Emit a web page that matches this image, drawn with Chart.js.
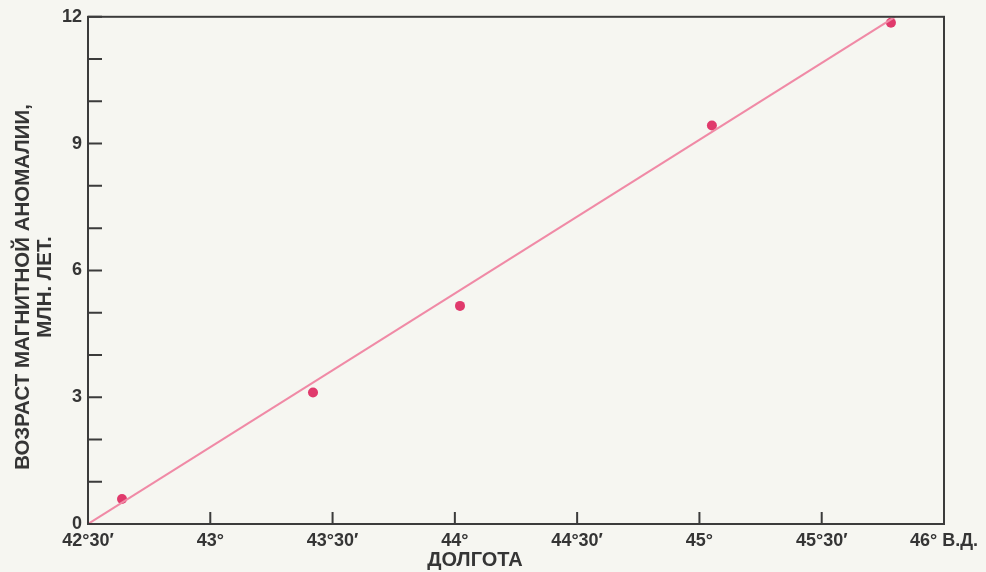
<!DOCTYPE html>
<html lang="ru">
<head>
    <meta charset="UTF-8" />
    <title>Возраст магнитной аномалии</title>
    <script src="https://cdn.jsdelivr.net/npm/chart.js"></script>
    <style>
        html, body {
            margin: 0;
            padding: 0;
            background: #f6f6f1;
        }
        #wrap {
            position: relative;
            width: 986px;
            height: 572px;
        }
    </style>
</head>
<body>
<div id="wrap"><canvas id="ageChart"></canvas></div>

<script>
    // измеренные точки: долгота (градусы) и возраст (млн. лет)
    const longitudes = [42.639, 43.42, 44.021, 45.051, 45.783];
    const ages = [0.59, 3.11, 5.16, 9.43, 11.86];

    // прямая
    const fitLongitudes = [42.5, 45.80];
    const fitAges = [0, 12];

    const xTickValues = [42.5, 43, 43.5, 44, 44.5, 45, 45.5, 46];
    const yLabelValues = [0, 3, 6, 9, 12];

    const yTitle = ['ВОЗРАСТ МАГНИТНОЙ АНОМАЛИИ,', 'МЛН. ЛЕТ.'];
    const xTitle = 'ДОЛГОТА';
    const lastTickSuffix = ' В.Д.';

    const axisColor = '#3b3b3b';
    const textColor = '#353535';

    function fmtLon(v) {
        const deg = Math.floor(v + 1e-9);
        const min = Math.round((v - deg) * 60);
        let s = deg + '°' + (min ? min + '′' : '');
        if (v === xTickValues[xTickValues.length - 1]) s += lastTickSuffix;
        return s;
    }

    // рамка, внутренние риски и подписи осей
    const axisDecor = {
        id: 'axisDecor',
        afterDraw(chart) {
            const {ctx, chartArea: a, scales} = chart;
            ctx.save();
            ctx.strokeStyle = axisColor;
            ctx.lineWidth = 2;
            ctx.strokeRect(a.left, a.top, a.right - a.left, a.bottom - a.top);

            ctx.beginPath();
            scales.y.ticks.forEach(t => {
                const py = scales.y.getPixelForValue(t.value);
                ctx.moveTo(a.left, py);
                ctx.lineTo(a.left + 14, py);
            });
            scales.x.ticks.forEach(t => {
                const px = scales.x.getPixelForValue(t.value);
                ctx.moveTo(px, a.bottom);
                ctx.lineTo(px, a.bottom - 12);
            });
            ctx.stroke();

            ctx.fillStyle = textColor;
            ctx.textAlign = 'center';
            ctx.textBaseline = 'middle';
            ctx.font = 'bold 20px "Liberation Sans", Arial, sans-serif';
            ctx.fillText(xTitle, 475, 560);

            ctx.font = 'bold 20.5px "Liberation Sans", Arial, sans-serif';
            ctx.translate(0, 287);
            ctx.rotate(-Math.PI / 2);
            ctx.fillText(yTitle[0], 0, 23);
            ctx.fillText(yTitle[1], 0, 45);
            ctx.restore();
        }
    };

    const tickFont = { family: '"Liberation Sans", Arial, sans-serif', size: 18, weight: 'bold' };

    new Chart(document.getElementById('ageChart'), {
        type: 'scatter',
        data: {
            datasets: [
                {
                    type: 'line',
                    data: fitLongitudes.map((x, i) => ({x, y: fitAges[i]})),
                    borderColor: '#f08aa6',
                    borderWidth: 2,
                    pointRadius: 0,
                    fill: false
                },
                {
                    data: longitudes.map((x, i) => ({x, y: ages[i]})),
                    backgroundColor: '#e03a6c',
                    borderWidth: 0,
                    pointRadius: 5
                }
            ]
        },
        options: {
            responsive: true,
            maintainAspectRatio: false,
            animation: false,
            layout: { padding: { top: 15, right: 42, left: 0, bottom: 0 } },
            plugins: {
                legend: { display: false },
                tooltip: { enabled: false }
            },
            scales: {
                x: {
                    type: 'linear',
                    min: 42.5,
                    max: 46,
                    afterBuildTicks: s => { s.ticks = xTickValues.map(v => ({value: v})); },
                    afterFit: s => { s.height = 48; },
                    grid: { drawOnChartArea: false, drawTicks: false },
                    border: { display: false },
                    ticks: {
                        padding: 6,
                        color: textColor,
                        font: tickFont,
                        maxRotation: 0,
                        autoSkip: false,
                        callback: v => fmtLon(v)
                    }
                },
                y: {
                    min: 0,
                    max: 12,
                    afterFit: s => { s.width = 88; },
                    grid: { drawOnChartArea: false, drawTicks: false },
                    border: { display: false },
                    ticks: {
                        stepSize: 1,
                        padding: 6,
                        color: textColor,
                        font: tickFont,
                        autoSkip: false,
                        callback: v => yLabelValues.includes(v) ? v : ''
                    }
                }
            }
        },
        plugins: [axisDecor]
    });
</script>
</body>
</html>
